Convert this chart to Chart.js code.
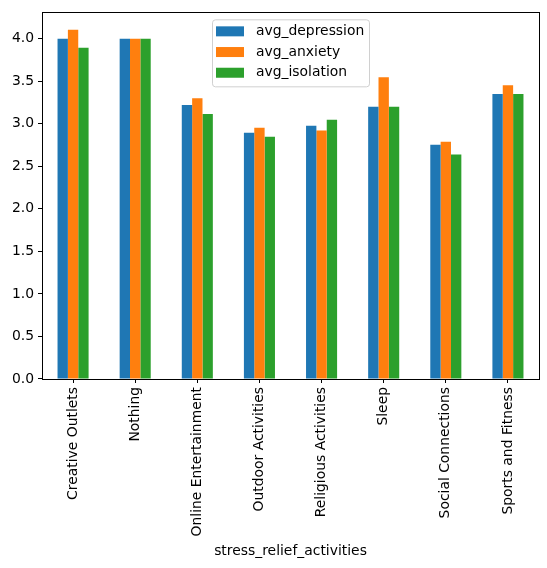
<!DOCTYPE html>
<html>
<head>
<meta charset="utf-8">
<script src="https://cdn.jsdelivr.net/npm/chart.js@4"></script>
<style>
  body { margin: 0; background: #fff; }
  #wrap { width: 547px; height: 568px; }
</style>
</head>
<body>
<div id="wrap"><canvas id="chart"></canvas></div>
<script>
const categories = ["Creative Outlets", "Nothing", "Online Entertainment", "Outdoor Activities",
  "Religious Activities", "Sleep", "Social Connections", "Sports and Fitness"];
const avgDepression = [4.0, 4.0, 3.22, 2.895, 2.977, 3.2, 2.755, 3.35];
const avgAnxiety = [4.105, 4.0, 3.3, 2.953, 2.92, 3.547, 2.79, 3.453];
const avgIsolation = [3.895, 4.0, 3.116, 2.849, 3.047, 3.2, 2.64, 3.35];
const yTicks = [0.0, 0.5, 1.0, 1.5, 2.0, 2.5, 3.0, 3.5, 4.0];

Chart.defaults.font.family = "DejaVu Sans";
Chart.defaults.font.size = 13.9;
Chart.defaults.color = "#000";

// matplotlib-like legend inside the plot, upper centre
const boxLegend = {
  id: "boxLegend",
  afterDraw(chart) {
    const ctx = chart.ctx, a = chart.chartArea;
    const w = 157, h = 67;
    const x = (a.left + a.right) / 2 - w / 2, y = a.top + 7;
    ctx.save();
    ctx.fillStyle = "rgba(255,255,255,0.8)";
    ctx.strokeStyle = "#d0d0d0";
    ctx.lineWidth = 1;
    ctx.beginPath();
    ctx.roundRect(x + 0.5, y + 0.5, w, h, 3);
    ctx.fill();
    ctx.stroke();
    ctx.font = "13.9px 'DejaVu Sans'";
    ctx.textBaseline = "middle";
    chart.data.datasets.forEach((ds, i) => {
      const cy = y + 12 + i * 20.7;
      ctx.fillStyle = ds.backgroundColor;
      ctx.fillRect(x + 4, cy - 5, 28, 10);
      ctx.fillStyle = "#000";
      ctx.fillText(ds.label, x + 44, cy);
    });
    ctx.restore();
  }
};

const frame = {
  id: "frame",
  afterDatasetsDraw(chart) {
    const ctx = chart.ctx, a = chart.chartArea;
    ctx.save();
    ctx.strokeStyle = "#000";
    ctx.lineWidth = 1;
    ctx.strokeRect(Math.round(a.left) + 0.5, Math.round(a.top) + 0.5,
      Math.round(a.right - a.left), Math.round(a.bottom - a.top));
    ctx.restore();
  }
};

new Chart(document.getElementById("chart"), {
  type: "bar",
  data: {
    labels: categories,
    datasets: [
      { label: "avg_depression", data: avgDepression, backgroundColor: "#1f77b4" },
      { label: "avg_anxiety", data: avgAnxiety, backgroundColor: "#ff7f0e" },
      { label: "avg_isolation", data: avgIsolation, backgroundColor: "#2ca02c" }
    ]
  },
  options: {
    responsive: true,
    maintainAspectRatio: false,
    animation: false,
    datasets: { bar: { categoryPercentage: 0.5, barPercentage: 1.0 } },
    layout: { padding: { left: 0, top: 8, right: 8, bottom: 0 } },
    plugins: { legend: { display: false }, tooltip: { enabled: false } },
    scales: {
      x: {
        grid: { display: true, offset: false, drawOnChartArea: false, drawTicks: true, tickLength: 4, color: "#000" },
        border: { display: false },
        ticks: { minRotation: 90, maxRotation: 90, padding: 4, autoSkip: false },
        title: { display: true, text: "stress_relief_activities", padding: { top: 4, bottom: 8 } },
        afterFit: s => { s.height = 189; }
      },
      y: {
        min: 0,
        max: 4.31,
        grid: { display: true, drawOnChartArea: false, drawTicks: true, tickLength: 4, color: "#000" },
        border: { display: false },
        afterBuildTicks: s => { s.ticks = yTicks.map(v => ({ value: v })); },
        ticks: { padding: 4, callback: v => Number(v).toFixed(1) },
        afterFit: s => { s.width = 42; }
      }
    }
  },
  plugins: [frame, boxLegend]
});
</script>
</body>
</html>
